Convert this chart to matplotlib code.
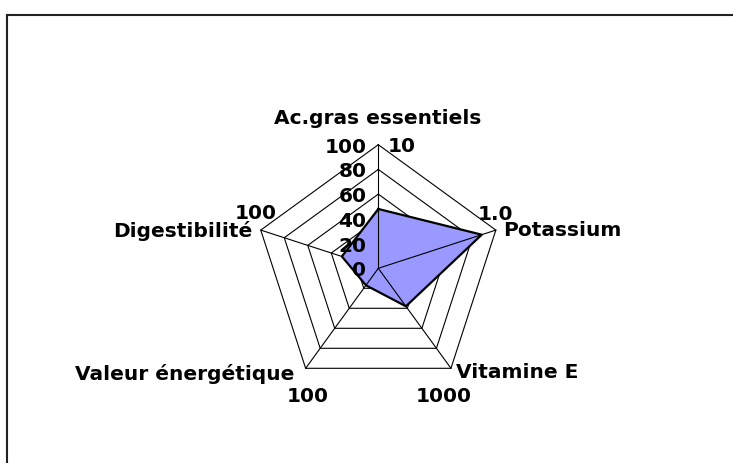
import numpy as np
import matplotlib
matplotlib.use("Agg")
import matplotlib.pyplot as plt
from matplotlib.lines import Line2D

categories = ["Ac.gras essentiels", "Potassium", "Vitamine E",
              "Valeur énergétique", "Digestibilité"]
values = [48, 88, 38, 17, 31]
ring_levels = [0, 20, 40, 60, 80, 100]
axis_max_labels = ["10", "1.0", "1000", "100", "100"]

# label offsets in pixels (dx, dy) from each outer vertex, plus alignment
cat_offsets = [(-1, 21.7, "center"), (7, -4.6, "left"), (5, -8.7, "left"),
               (-11.7, -10.7, "right"), (-8.7, -6.2, "right")]
max_offsets = [(9.7, -6.3, "left"), (-17.9, 11.1, "left"), (-7, -32.4, "center"),
               (1.6, -32.4, "center"), (16.3, 12.1, "right")]

plt.rcParams["font.family"] = "DejaVu Sans"
plt.rcParams["font.weight"] = "bold"
FS = 14.5
PX = 0.72  # points per pixel at dpi 100

W, H = 733, 464
fig = plt.figure(figsize=(W / 100, H / 100), dpi=100)
cx, cy, R = 378.3, H - 269.3, 123.6
ax = fig.add_axes([(cx - R) / W, (cy - R) / H, 2 * R / W, 2 * R / H],
                  projection="polar")
ax.set_theta_offset(np.pi / 2)
ax.set_theta_direction(-1)
ax.set_ylim(0, 100)
ax.axis("off")

n = len(categories)
theta = np.arange(n) * 2 * np.pi / n
closed = np.append(theta, theta[0])

# pentagon rings
for lv in ring_levels[1:]:
    ax.plot(closed, [lv] * (n + 1), color="black", lw=0.8, zorder=1, clip_on=False)

# data polygon
vals = np.append(values, values[0])
ax.fill(closed, vals, facecolor="#9999FF", edgecolor="none", zorder=2, clip_on=False)
ax.plot(closed, vals, color="black", lw=1.6, zorder=4, clip_on=False)

# spokes
for i, t in enumerate(theta):
    z = 1 if i == 4 else 3
    ax.plot([t, t], [0, 100], color="black", lw=0.8, zorder=z, clip_on=False)

# value axis labels
for lv in ring_levels:
    ax.annotate(str(lv), xy=(0, lv), xytext=(-12 * PX, -7 * PX),
                textcoords="offset points", ha="right", va="baseline",
                fontsize=FS, fontweight="bold", zorder=5)

# category names and per-axis maxima
for i, t in enumerate(theta):
    dx, dy, ha = cat_offsets[i]
    ax.annotate(categories[i], xy=(t, 100), xytext=(dx * PX, dy * PX),
                textcoords="offset points", ha=ha, va="baseline",
                fontsize=FS, fontweight="bold", zorder=5, annotation_clip=False)
    dx, dy, ha = max_offsets[i]
    ax.annotate(axis_max_labels[i], xy=(t, 100), xytext=(dx * PX, dy * PX),
                textcoords="offset points", ha=ha, va="baseline",
                fontsize=FS, fontweight="bold", zorder=5, annotation_clip=False)

# chart frame (top and left edges)
bx, by = 7.3 / W, 1 - 15.5 / H
fig.add_artist(Line2D([bx, 1], [by, by], color="#222222", lw=1.5))
fig.add_artist(Line2D([bx, bx], [0, by], color="#222222", lw=1.5))

fig.savefig("out.png", dpi=100, facecolor="white")
